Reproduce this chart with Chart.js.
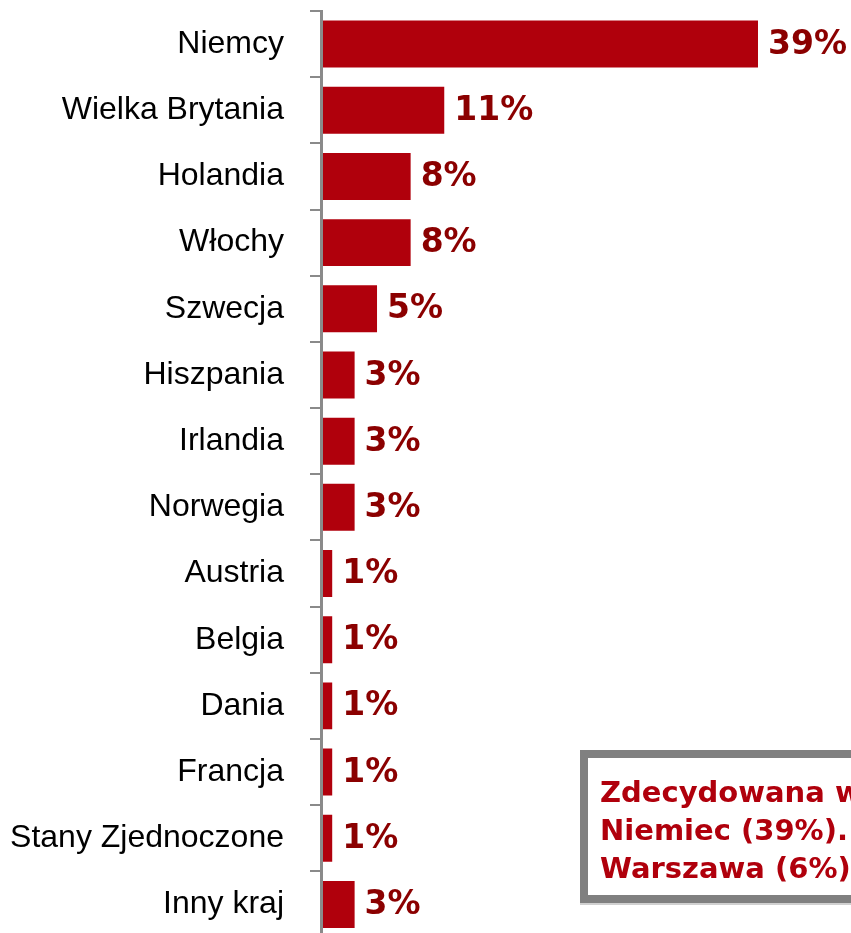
<!DOCTYPE html>
<html lang="pl">
<head>
<meta charset="utf-8">
<title>Kraje wyjazdu</title>
<script src="https://cdn.jsdelivr.net/npm/chart.js@4/dist/chart.umd.min.js"></script>
<style>
  html, body { margin: 0; padding: 0; background: #fff; overflow: hidden; }
  #wrap { position: relative; width: 851px; height: 946px; }
  #note {
    position: absolute; left: 580px; top: 750px;
    width: 420px; height: 122px;
    padding: 15px 0 0 12px;
    border: 8px solid #808080;
    background: #fff;
    box-shadow: 0 2px 0 #d0d0d0;
    font: bold 29px "DejaVu Sans", Verdana, sans-serif;
    line-height: 38px;
    color: #b0000c;
    white-space: nowrap;
  }
</style>
</head>
<body>
<div id="wrap">
  <canvas id="chart"></canvas>
  <div id="note">Zdecydowana większość<br>Niemiec (39%).<br>Warszawa (6%).</div>
</div>
<script>
const categories = ['Niemcy', 'Wielka Brytania', 'Holandia', 'Włochy', 'Szwecja', 'Hiszpania', 'Irlandia',
                    'Norwegia', 'Austria', 'Belgia', 'Dania', 'Francja', 'Stany Zjednoczone', 'Inny kraj'];
const values     = [39, 11, 8, 8, 5, 3, 3, 3, 1, 1, 1, 1, 1, 3];

const BAR_RED   = '#b0000c';
const LABEL_RED = '#8b0000';
const AXIS_GREY = '#8a8a8a';

// procent na końcu każdego słupka
const valueLabels = {
  id: 'valueLabels',
  afterDatasetsDraw(chart) {
    const ctx = chart.ctx;
    const meta = chart.getDatasetMeta(0);
    ctx.save();
    ctx.font = 'bold 33px "DejaVu Sans", Verdana, sans-serif';
    ctx.fillStyle = LABEL_RED;
    ctx.textAlign = 'left';
    ctx.textBaseline = 'middle';
    meta.data.forEach((bar, i) => {
      ctx.fillText(values[i] + '%', bar.x + 10, bar.y + 1);
    });
    ctx.restore();
  },
};

new Chart(document.getElementById('chart'), {
  type: 'bar',
  data: {
    labels: categories,
    datasets: [{
      data: values,
      backgroundColor: BAR_RED,
      borderWidth: 0,
      categoryPercentage: 1,
      barPercentage: 0.71,
    }],
  },
  options: {
    indexAxis: 'y',
    responsive: true, maintainAspectRatio: false,
    animation: false,
    layout: { padding: { top: 11, bottom: 8.5, left: 0, right: 0 } },
    plugins: { legend: { display: false }, tooltip: { enabled: false } },
    scales: {
      x: { display: false, min: 0, max: 47.3 },
      y: {
        afterFit(scale) {
          scale.width = 321;
          scale.paddingTop = 0;
          scale.paddingBottom = 0;
        },
        grid: {
          display: true, drawOnChartArea: false, drawTicks: true,
          offset: true, tickLength: 11, color: AXIS_GREY, lineWidth: 2,
        },
        border: { display: true, color: AXIS_GREY, width: 3, z: 1 },
        ticks: {
          padding: 26,
          color: '#000',
          font: { family: '"Liberation Sans", Arial, sans-serif', size: 32 },
        },
      },
    },
  },
  plugins: [valueLabels],
});
</script>
</body>
</html>
